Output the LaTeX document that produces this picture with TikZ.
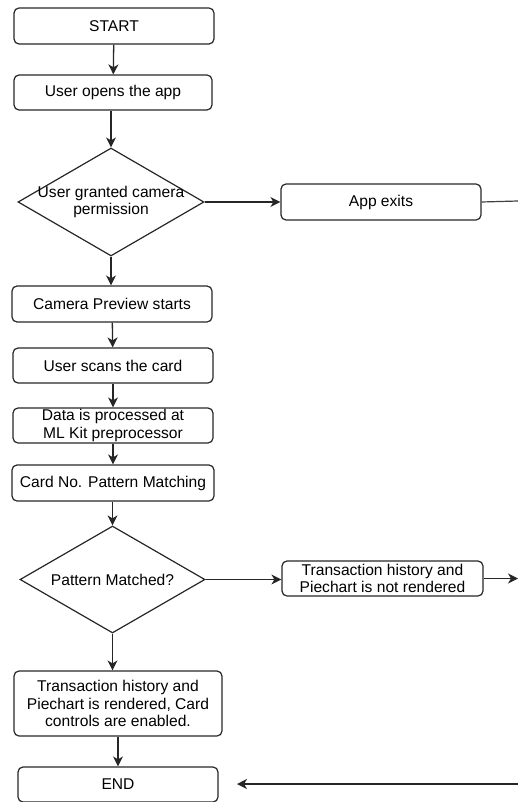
\documentclass[tikz,border=0pt]{standalone}
\usepackage{fontspec}
\setmainfont{Liberation Sans}
\usetikzlibrary{arrows.meta,shapes.geometric}
\begin{document}
\begin{tikzpicture}[x=1pt,y=-1pt,
  every node/.style={font=\fontsize{15.6}{17.8}\selectfont, text=black, inner sep=0pt},
  box/.style={draw=black!85, line width=1.2pt, rounded corners=5pt, align=center},
  dia/.style={draw=black!85, line width=1.2pt, diamond},
  conn/.style={draw=black!85, line width=1.3pt, -{Stealth[length=10pt,width=10pt,inset=3pt]}},
  plain/.style={draw=black!75, line width=1.2pt}]
\useasboundingbox (0,0) rectangle (518,802);
\node[box, minimum width=200pt, minimum height=36pt] (start) at (114,26) {START};
\node[box, minimum width=198pt, minimum height=35pt] (open) at (113,92.5) {User opens the app};
\node[dia, minimum width=186pt, minimum height=108pt] (perm) at (111,202) {};
\node[align=center] (permtext) at (111,202) {User granted camera\\permission};
\node[box, minimum width=200pt, minimum height=36pt] (exit) at (381,202) {App exits};
\node[box, minimum width=200pt, minimum height=36pt] (prev) at (112,304) {Camera Preview starts};
\node[box, minimum width=200pt, minimum height=35pt] (scan) at (113,365.5) {User scans the card};
\node[box, minimum width=200pt, minimum height=35pt] (proc) at (113,425.5) {Data is processed at\\ML Kit preprocessor};
\node[box, minimum width=202pt, minimum height=36pt] (match) at (113,483) {Card No. Pattern Matching};
\node[dia, minimum width=185pt, minimum height=107pt] (pm) at (112.5,579.5) {};
\node (pmtext) at (112.5,579.5) {Pattern Matched?};
\node[box, minimum width=201pt, minimum height=35pt] (notr) at (382.5,578.5) {Transaction history and\\Piechart is not rendered};
\node[box, minimum width=208pt, minimum height=65pt] (rend) at (118,703.5) {Transaction history and\\Piechart is rendered, Card\\controls are enabled.};
\node[box, minimum width=200pt, minimum height=35pt] (end) at (118,784.5) {END};
\coordinate (exitR) at (518,201);
\coordinate (notrR) at (518,578.5);
\coordinate (endR) at (518,784);
\coordinate (endL) at (237,784);
\draw[conn] (start) -- (open);
\draw[conn] (open.south -| perm.north) -- (perm.north);
\draw[conn] (perm.east) -- (perm.east -| exit.west);
\draw[plain] (exit.east) -- (exitR);
\draw[conn] (perm.south) -- (perm.south |- prev.north);
\draw[conn] (prev) -- (scan);
\draw[conn] (scan) -- (proc);
\draw[conn] (proc) -- (match);
\draw[conn] (match.south -| pm.north) -- (pm.north);
\draw[conn] (pm.east) -- (pm.east -| notr.west);
\draw[conn] (notr.east) -- (notrR);
\draw[conn] (pm.south) -- (pm.south |- rend.north);
\draw[conn] (rend) -- (end);
\draw[conn] (endR) -- (endL);
\end{tikzpicture}
\end{document}
